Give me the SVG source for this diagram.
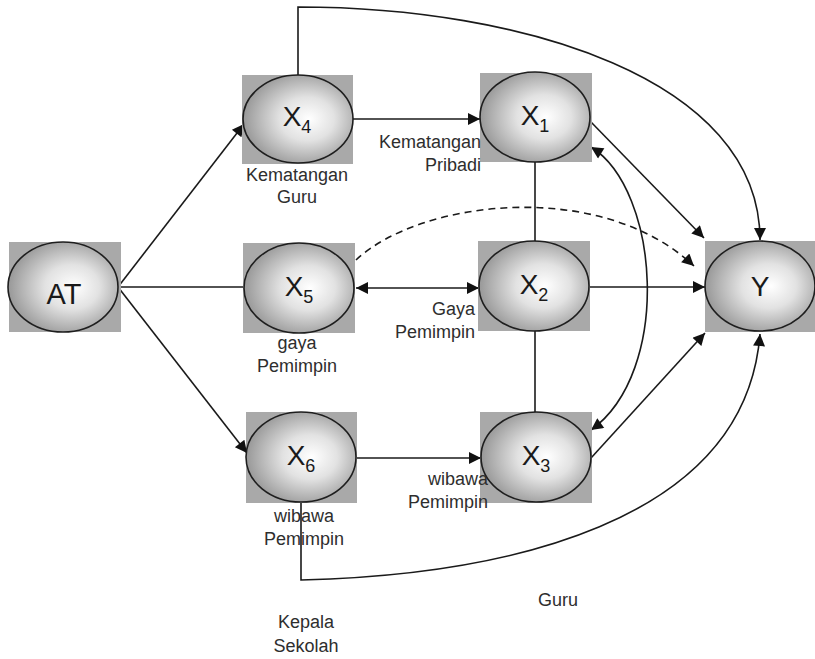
<svg xmlns="http://www.w3.org/2000/svg" width="815" height="659" viewBox="0 0 815 659">
  <defs>
    <radialGradient id="ball" cx="0.56" cy="0.5" r="0.55" fx="0.6" fy="0.5">
      <stop offset="0" stop-color="#ffffff"/>
      <stop offset="0.45" stop-color="#e2e2e2"/>
      <stop offset="1" stop-color="#9a9a9a"/>
    </radialGradient>
    <marker id="arr" viewBox="0 0 10 10" refX="10" refY="5" markerWidth="15" markerHeight="12" markerUnits="userSpaceOnUse" orient="auto-start-reverse">
      <path d="M0,0 L10,5 L0,10 z" fill="#111"/>
    </marker>
    <style>
      .box { fill: #a9a9a9; }
      .ell { fill: url(#ball); stroke: #1e1e1e; stroke-width: 1.6; }
      .var { font-family: "Liberation Sans", Arial, sans-serif; font-size: 28px; fill: #1a1a1a; text-anchor: middle; }
      .sub { font-size: 18px; }
      .lbl { font-family: "Liberation Sans", Arial, sans-serif; font-size: 18px; fill: #2e2e2e; }
      .mid { text-anchor: middle; }
      .end { text-anchor: end; }
      .edge { fill: none; stroke: #1a1a1a; stroke-width: 1.6; }
      .dash { stroke-dasharray: 7 5; }
    </style>
  </defs>

  <rect width="815" height="659" fill="#ffffff"/>

  <!-- connectors -->
  <g id="connectors">
    <line class="edge" x1="118" y1="287" x2="244" y2="124" marker-end="url(#arr)"/>
    <line class="edge" x1="118" y1="287" x2="245" y2="287"/>
    <line class="edge" x1="118" y1="287" x2="247" y2="453" marker-end="url(#arr)"/>
    <line class="edge" x1="353" y1="119" x2="480" y2="119" marker-end="url(#arr)"/>
    <path class="edge" d="M298,75 V7 C520,7 760,78 760,240" marker-end="url(#arr)"/>
    <line class="edge" x1="590" y1="121" x2="704" y2="238" marker-end="url(#arr)"/>
    <path class="edge dash" d="M356,260 C420,200 600,178 694,266" marker-end="url(#arr)"/>
    <line class="edge" x1="535" y1="162" x2="535" y2="241"/>
    <line class="edge" x1="535" y1="331" x2="535" y2="412"/>
    <line class="edge" x1="356" y1="288" x2="479" y2="288" marker-start="url(#arr)" marker-end="url(#arr)"/>
    <line class="edge" x1="590" y1="287" x2="705" y2="287" marker-end="url(#arr)"/>
    <line class="edge" x1="357" y1="458" x2="481" y2="458" marker-end="url(#arr)"/>
    <line class="edge" x1="591" y1="458" x2="705" y2="333" marker-end="url(#arr)"/>
    <path class="edge" d="M591,147 C660,190 672,372 591,430" marker-start="url(#arr)" marker-end="url(#arr)"/>
    <path class="edge" d="M301,503 V580 C500,575 745,525 760,334" marker-end="url(#arr)"/>
  </g>

  <!-- nodes -->
  <g id="node-AT">
    <rect class="box" x="9" y="242" width="112" height="90"/>
    <ellipse class="ell" cx="63" cy="287" rx="55" ry="45"/>
    <text class="var" x="64" y="304" style="font-size:29px">AT</text>
  </g>
  <g id="node-X4">
    <rect class="box" x="242" y="75" width="111" height="89"/>
    <ellipse class="ell" cx="298" cy="119" rx="55" ry="44"/>
    <text class="var" x="297" y="126">X<tspan class="sub" dy="7">4</tspan></text>
  </g>
  <g id="node-X1">
    <rect class="box" x="480" y="73" width="112" height="89"/>
    <ellipse class="ell" cx="535" cy="117" rx="55" ry="45"/>
    <text class="var" x="535" y="125">X<tspan class="sub" dy="7">1</tspan></text>
  </g>
  <g id="node-X5">
    <rect class="box" x="243" y="243" width="112" height="90"/>
    <ellipse class="ell" cx="299" cy="288" rx="55" ry="45"/>
    <text class="var" x="299" y="296">X<tspan class="sub" dy="7">5</tspan></text>
  </g>
  <g id="node-X2">
    <rect class="box" x="478" y="241" width="112" height="90"/>
    <ellipse class="ell" cx="534" cy="286" rx="55" ry="45"/>
    <text class="var" x="534" y="294">X<tspan class="sub" dy="7">2</tspan></text>
  </g>
  <g id="node-X6">
    <rect class="box" x="246" y="412" width="111" height="91"/>
    <ellipse class="ell" cx="301" cy="457" rx="55" ry="45"/>
    <text class="var" x="301" y="465">X<tspan class="sub" dy="7">6</tspan></text>
  </g>
  <g id="node-X3">
    <rect class="box" x="480" y="412" width="112" height="91"/>
    <ellipse class="ell" cx="536" cy="457" rx="55" ry="45"/>
    <text class="var" x="536" y="465">X<tspan class="sub" dy="7">3</tspan></text>
  </g>
  <g id="node-Y">
    <rect class="box" x="705" y="241" width="110" height="91"/>
    <ellipse class="ell" cx="760" cy="286" rx="55" ry="45"/>
    <text class="var" x="760" y="296">Y</text>
  </g>

  <!-- labels -->
  <g id="labels">
    <text class="lbl mid" x="297" y="181">Kematangan</text>
    <text class="lbl mid" x="297" y="203">Guru</text>
    <text class="lbl end" x="481" y="148">Kematangan</text>
    <text class="lbl end" x="481" y="171">Pribadi</text>
    <text class="lbl mid" x="297" y="349">gaya</text>
    <text class="lbl mid" x="297" y="372">Pemimpin</text>
    <text class="lbl end" x="475" y="315">Gaya</text>
    <text class="lbl end" x="475" y="338">Pemimpin</text>
    <text class="lbl mid" x="304" y="522">wibawa</text>
    <text class="lbl mid" x="304" y="545">Pemimpin</text>
    <text class="lbl end" x="488" y="485">wibawa</text>
    <text class="lbl end" x="488" y="508">Pemimpin</text>
    <text class="lbl mid" x="558" y="606">Guru</text>
    <text class="lbl mid" x="306" y="628">Kepala</text>
    <text class="lbl mid" x="306" y="652">Sekolah</text>
  </g>
</svg>
